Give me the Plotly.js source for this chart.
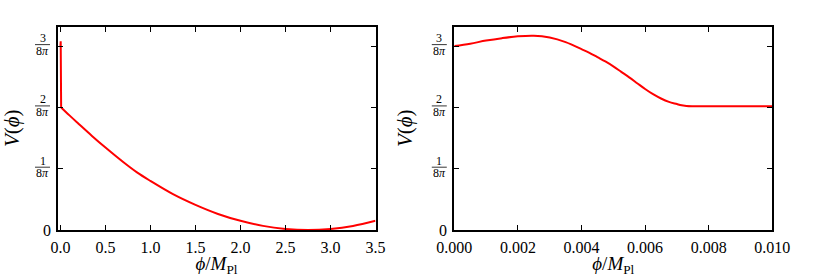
<!DOCTYPE html>
<html>
<head>
<meta charset="utf-8">
<script src="https://cdn.plot.ly/plotly-3.0.1.min.js"></script>
<style>html,body{margin:0;padding:0;background:#fff;}#chart{width:830px;height:277px;}</style>
</head>
<body>
<div id="chart"></div>
<script>
// Values of V(phi) are given in units of 1/(8*pi)
const leftPhi  = [0, 0.0025, 0.0075, 0.1, 0.2, 0.35, 0.5, 0.7, 0.85, 1.0, 1.25, 1.5, 1.75, 2.0, 2.25, 2.5, 2.75, 3.0, 3.25, 3.5];
const leftV8pi = [3.0, 3.08, 2.0, 1.87, 1.735, 1.535, 1.345, 1.105, 0.94, 0.80, 0.585, 0.41, 0.262, 0.15, 0.067, 0.018, 0.0, 0.017, 0.066, 0.15];

const rightPhi  = [0, 0.0005, 0.001, 0.0015, 0.002, 0.0025, 0.003, 0.0035, 0.004, 0.00425, 0.0045, 0.00475, 0.005, 0.00525, 0.0055, 0.00575, 0.006, 0.00625, 0.0065, 0.00675, 0.007, 0.0071, 0.0073, 0.008, 0.009, 0.01];
const rightV8pi = [3.00, 3.04, 3.09, 3.13, 3.16, 3.17, 3.14, 3.065, 2.95, 2.89, 2.82, 2.75, 2.67, 2.58, 2.49, 2.395, 2.30, 2.215, 2.145, 2.09, 2.055, 2.04, 2.025, 2.02, 2.02, 2.02];

const yTickNums = [0, 1, 2, 3];          // numerators of k/(8π)
const yTickDen  = "8<i>π</i>";
const xTitle = "<i>ϕ</i>/<i>M</i><sub>Pl</sub>";
const yTitle = "<i>V</i>(<i>ϕ</i>)";

const EIGHTPI = 8 * Math.PI;
const toV = a => a.map(v => v / EIGHTPI);

const FONT = "Liberation Serif";
const RED = "#ff0000";
const JUMP = 3; // first points form the near-vertical jump at phi ~ 0

const traces = [
  {x: leftPhi.slice(0, JUMP), y: toV(leftV8pi.slice(0, JUMP)), xaxis: "x", yaxis: "y", mode: "lines",
   line: {color: RED, width: 2}, hoverinfo: "skip"},
  {x: leftPhi.slice(JUMP - 1), y: toV(leftV8pi.slice(JUMP - 1)), xaxis: "x", yaxis: "y", mode: "lines",
   line: {color: RED, width: 2, shape: "spline", smoothing: 1}, hoverinfo: "skip"},
  {x: rightPhi, y: toV(rightV8pi), xaxis: "x2", yaxis: "y2", mode: "lines",
   line: {color: RED, width: 2, shape: "spline", smoothing: 1}, hoverinfo: "skip"}
];

const W = 830, H = 277;
const yDom = [1 - 230 / H, 1 - 26.5 / H];
const yRange = [0, 3.32 / EIGHTPI];

function xAxis(domain, range, dtick, fmt) {
  return {domain: domain, range: range, dtick: dtick, tick0: 0, tickformat: fmt,
    showline: true, linecolor: "#000", linewidth: 2, mirror: "ticks",
    ticks: "inside", ticklen: 5, tickwidth: 1, tickcolor: "#000",
    showgrid: false, zeroline: false, ticklabelstandoff: 2,
    tickfont: {family: FONT, size: 16, color: "#000"},
    title: {text: xTitle, font: {family: FONT, size: 19, color: "#000"}, standoff: 12},
    automargin: false, fixedrange: true};
}
function yAxis(anchor) {
  return {domain: yDom, range: yRange, anchor: anchor,
    tickmode: "array", tickvals: yTickNums.map(k => k / EIGHTPI),
    showticklabels: false,
    showline: true, linecolor: "#000", linewidth: 2, mirror: "ticks",
    ticks: "inside", ticklen: 5, tickwidth: 1, tickcolor: "#000",
    showgrid: false, zeroline: false,
    title: {text: yTitle, font: {family: FONT, size: 21, color: "#000"}, standoff: 34},
    automargin: false, fixedrange: true};
}

const xDomL = [57.5 / W, 375.5 / W];
const xDomR = [454.3 / W, 772.3 / W];

const annotations = [];
const shapes = [];
[[xDomL, "y"], [xDomR, "y2"]].forEach(([dom, yref]) => {
  const cx = dom[0] * W - 15;
  yTickNums.forEach(k => {
    const yv = k / EIGHTPI;
    if (k === 0) {
      annotations.push({xref: "paper", yref: yref, x: (dom[0] * W - 11) / W, y: yv,
        text: "0", showarrow: false, xanchor: "center", yanchor: "middle",
        font: {family: FONT, size: 16, color: "#000"}});
      return;
    }
    annotations.push({xref: "paper", yref: yref, x: cx / W, y: yv, yshift: 8,
      text: String(k), showarrow: false, xanchor: "center", yanchor: "middle",
      font: {family: FONT, size: 12, color: "#000"}});
    annotations.push({xref: "paper", yref: yref, x: cx / W, y: yv, yshift: -4.5,
      text: yTickDen, showarrow: false, xanchor: "center", yanchor: "middle",
      font: {family: FONT, size: 12, color: "#000"}});
    shapes.push({type: "line", xref: "paper", yref: yref, ysizemode: "pixel", yanchor: yv,
      x0: (cx - 7.5) / W, x1: (cx + 7.5) / W, y0: 1.5, y1: 1.5,
      line: {color: "#000", width: 0.8}});
  });
});

const layout = {
  width: W, height: H,
  margin: {l: 0, r: 0, t: 0, b: 0, pad: 0},
  paper_bgcolor: "#fff", plot_bgcolor: "#fff",
  showlegend: false,
  xaxis: xAxis(xDomL, [-0.033, 3.5], 0.5, ".1f"),
  yaxis: yAxis("x"),
  xaxis2: xAxis(xDomR, [0, 0.01], 0.002, ".3f"),
  yaxis2: yAxis("x2"),
  annotations: annotations,
  shapes: shapes,
  font: {family: FONT, color: "#000"}
};
layout.xaxis.anchor = "y";
layout.xaxis2.anchor = "y2";

Plotly.newPlot("chart", traces, layout, {displayModeBar: false, staticPlot: true});
</script>
</body>
</html>
